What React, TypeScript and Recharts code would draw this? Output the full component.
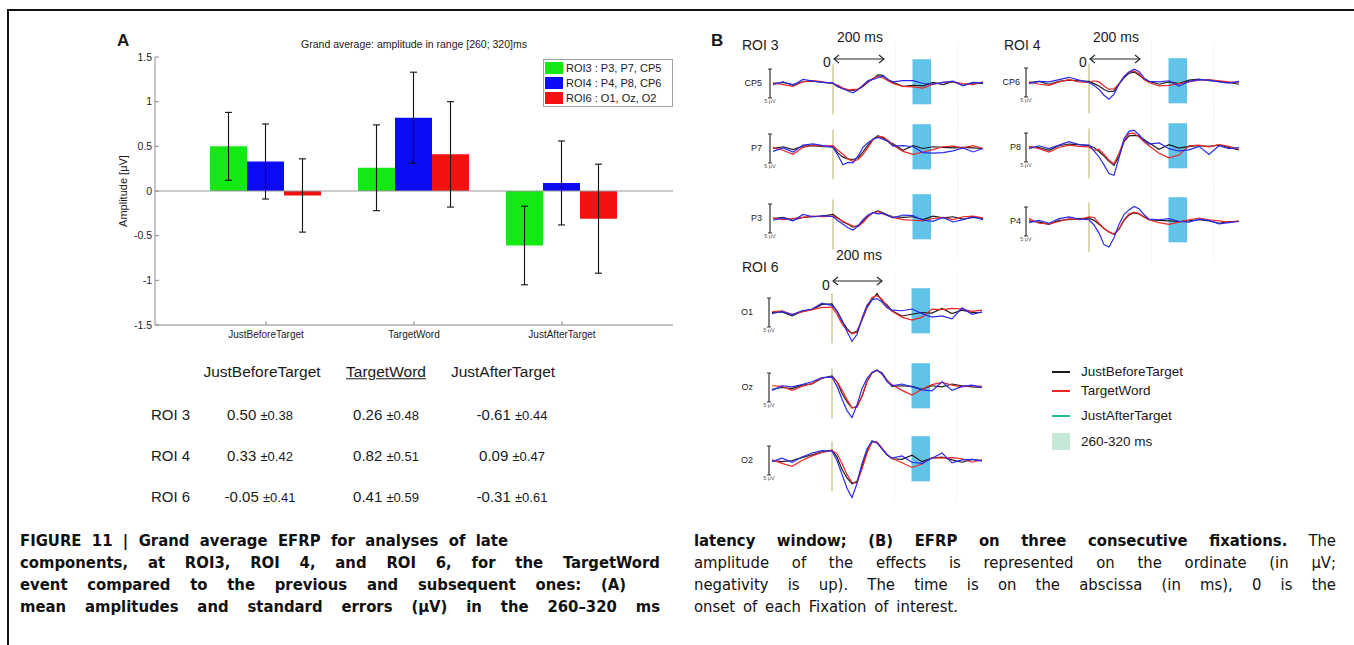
import React from 'react';
import {
  BarChart, Bar, XAxis, YAxis, ErrorBar, ReferenceLine, LineChart, Line, ReferenceArea,
} from 'recharts';

// ---------- Panel A data ----------
const categories = ['JustBeforeTarget', 'TargetWord', 'JustAfterTarget'];
const roi3 = [0.5, 0.26, -0.61];
const roi4 = [0.33, 0.82, 0.09];
const roi6 = [-0.05, 0.41, -0.31];
const err3 = [0.38, 0.48, 0.44];
const err4 = [0.42, 0.51, 0.47];
const err6 = [0.41, 0.59, 0.61];
const yTicks = [-1.5, -1, -0.5, 0, 0.5, 1, 1.5];
const roiNames = ['ROI 3', 'ROI 4', 'ROI 6'];
const legendA = ['ROI3 : P3, P7, CP5', 'ROI4 : P4, P8, CP6', 'ROI6 : O1, Oz, O2'];

// ---------- Panel B data (ms, µV) ----------
const times = [-240, -200, -160, -120, -80, -40, 0, 20, 40, 60, 80, 100, 120, 140, 160, 180, 200, 220, 240, 280, 320, 360, 400, 440, 480, 520, 560, 600];
const windowMs = [318, 392];
const gridMs = [250, 500];

const cp5Before = [0, 0.2, -0.2, 0.3, 0.4, 0.2, 0, -0.5, -0.9, -1.1, -1.2, -1.0, -0.5, 0.2, 0.8, 1.5, 1.4, 0.6, 0.2, -0.5, -0.3, -0.4, 0.2, -0.2, 0.3, -0.3, 0.1, 0];
const cp5Target = [0.1, -0.2, -0.5, 0.3, 0.5, 0.3, 0, -0.3, -0.8, -1.1, -1.0, -1.0, -0.4, 0.3, 0.9, 1.2, 1.0, 0.5, 0, -0.5, -0.6, -0.8, -0.1, 0.2, 0.3, 0, -0.2, 0.3];
const cp5After = [-0.2, 0.3, -0.3, 0.7, 0.4, 0.2, 0.1, -0.6, -0.9, -1.3, -1.6, -1.1, -0.3, 0.5, 0.7, 1.0, 1.3, 0.7, 0.3, 0.5, 0.5, 0, -0.1, 0.2, 0.4, -0.4, 0.2, 0.1];

const p7Before = [0, 0.3, -0.2, 0.4, 0.5, 0.3, 0.3, -0.8, -1.5, -1.8, -1.9, -1.6, -0.6, 0.6, 1.6, 2.2, 1.8, 1.2, 0.8, -0.3, 0.5, 0, 0.3, 0.2, 0.1, 0.2, 0.1, 0];
const p7Target = [0.2, -0.3, -1.0, 0.2, 0.6, 0.4, 0.5, -0.3, -1.0, -1.8, -2.2, -1.9, -1.0, 0.2, 1.5, 2.1, 2.0, 1.4, 0.6, -0.5, -1.0, -0.6, -0.2, 0.3, 0.4, 0.1, 0.5, 0];
const p7After = [-0.5, 0.1, -0.6, 0.6, 0.8, 0.5, 0.2, -1.2, -2.8, -2.4, -2.5, -1.3, 0.2, 1.0, 1.6, 1.9, 1.6, 1.2, 0.4, 0.5, 0.3, -0.7, -0.8, -0.7, -0.4, 0.1, -0.6, 0];

const p3Before = [0, 0.2, -0.3, 0.2, 0.3, 0.4, 0.7, 0.1, -0.6, -1.0, -1.5, -1.2, -0.5, 0.4, 1.0, 1.3, 1.0, 0.6, 0.3, 0.2, 0.3, -0.2, 0.4, 0.1, 0.3, -0.1, 0.2, 0];
const p3Target = [0.1, -0.2, 0, 0.2, 0.4, 0.3, 0.4, 0, -0.5, -0.9, -1.3, -1.4, -0.7, 0.3, 1.0, 1.2, 0.8, 0.5, 0.2, -0.2, -0.3, -0.4, 0, 0.2, -0.2, 0.3, 0.4, 0.1];
const p3After = [-0.3, 0.1, -0.4, 0.7, 0.3, 0.5, 0.3, -0.4, -1.0, -1.6, -2.0, -1.3, -0.2, 0.6, 1.0, 0.8, 0.9, 0.5, 0.1, 0.6, 0.5, -0.3, -0.5, 0.2, -0.6, -0.2, 0.3, -0.2];

const cp6Before = [0, 0.2, -0.3, 0.2, 0.4, 0.3, 0.2, -0.2, -0.6, -1.2, -1.6, -1.5, -0.3, 0.8, 1.6, 1.8, 1.3, 0.6, 0.2, -0.3, 0.1, -0.2, 0.4, 0.6, 0.3, 0.2, 0, -0.3];
const cp6Target = [0.1, -0.3, -0.5, 0.1, 0.5, 0.1, 0, 0.3, 0.1, -0.6, -1.2, -1.1, -0.2, 1.0, 1.8, 2.0, 1.5, 0.5, 0, -0.6, -0.5, -0.2, 0.1, 0.4, 0.5, 0.3, 0.1, 0];
const cp6After = [-0.2, 0.2, 0.1, 0.5, 0.9, 0.4, 0, -0.5, -1.2, -2.2, -2.9, -2.0, -0.3, 1.0, 1.8, 2.3, 1.9, 0.8, 0.2, 0.1, 0.3, -0.6, 0.2, 0.5, 0.4, 0.1, -0.1, 0.2];

const p8Before = [0.1, 0, -0.5, 0.3, 0.6, 0.5, 0.3, 0, -0.7, -1.5, -2.4, -3.1, -1.5, 1.0, 2.0, 2.1, 2.0, 1.4, 0.8, -0.3, 0.5, -0.1, 0.2, 0.3, 0.2, 0.4, 0, -0.4];
const p8Target = [0.2, -0.2, -0.8, 0, 0.4, 0.2, 0.1, -0.5, -0.3, -1.2, -2.2, -2.8, -1.0, 1.2, 2.4, 2.5, 1.8, 1.0, 0.3, -1.0, -1.8, -1.3, 0.3, 0.4, 0.1, 0.5, 0.2, -0.3];
const p8After = [-0.2, 0.3, -0.2, 0.4, 1.0, 0.5, 0.4, -0.6, -1.6, -3.0, -4.5, -4.8, -1.8, 1.5, 2.8, 3.0, 2.2, 1.2, 0.6, 0.8, -0.2, -0.6, -0.4, 0.2, -1.2, 0.3, -0.2, 0];

const p4Before = [0.1, -0.1, -0.5, 0.2, 0.3, 0.5, 0.6, 0.2, -0.5, -1.2, -1.8, -2.2, -1.3, 0.2, 1.1, 1.5, 1.3, 0.8, 0.3, 0.2, 0.1, 0, 0.1, 0.3, 0.1, -0.3, 0, 0];
const p4Target = [0.5, -0.3, -0.4, 0, 0.5, 0.3, 0.8, 0.7, -0.3, -1.2, -1.8, -2.2, -1.3, 0.3, 1.3, 1.6, 1.4, 0.8, 0.3, -0.2, -0.5, -0.1, 0.3, 0.6, 0.3, 0.1, -0.1, 0.1];
const p4After = [-0.2, 0.2, -0.3, 0.5, 0.8, 0.4, 0.3, -0.6, -2.0, -4.0, -4.4, -2.8, -0.5, 1.2, 2.0, 2.6, 2.2, 1.2, 0.4, 0.3, 0.5, 0, -0.1, 0.4, 0.2, -0.4, -0.2, 0];

const o1Before = [0, 0.1, -0.6, 0.2, 0.5, 1.4, 1.5, 0.2, -1.5, -2.8, -3.6, -3.2, -1.3, 0.8, 2.2, 3.3, 2.0, 1.3, 0.3, -0.6, -0.3, 0, -0.1, 0.7, -0.2, 0.4, 0, 0];
const o1Target = [0.1, 0.3, -0.3, 0.1, 0.5, 0.9, 0.9, -0.3, -2.0, -3.0, -3.7, -3.4, -1.2, 1.0, 2.6, 2.9, 2.3, 1.0, 0.2, -0.8, -1.3, -0.8, 0.6, 0.5, 0.7, 0.6, 0.2, 0.4];
const o1After = [-0.2, 0.2, -0.4, 0.3, 0.6, 1.6, 1.2, 0.3, -1.3, -3.3, -5.0, -3.8, -1.0, 1.3, 2.2, 2.4, 1.8, 0.8, 0.4, 0.3, 0.6, -0.2, -0.8, -0.6, -1.1, 0.8, -0.3, 0.1];

const ozBefore = [-0.3, 0, -0.2, 0.4, 0.6, 1.6, 2.0, 1.0, -1.0, -2.5, -3.5, -3.3, -1.5, 1.0, 2.5, 3.0, 2.5, 1.3, 0.2, 0.3, 0.2, -0.3, 0.3, 0.1, 0.6, 0.3, 0.1, 0];
const ozTarget = [0.3, 0.2, -0.5, 0.2, 0.7, 1.7, 1.8, 1.0, -0.4, -2.1, -3.5, -3.4, -1.5, 1.0, 2.6, 3.0, 2.3, 1.2, 0.5, -0.5, -1.3, -0.3, 0.5, 0.9, 0.4, 0.1, 0.3, 0.2];
const ozAfter = [-0.5, 0.3, 0.1, 0.5, 1.0, 1.7, 1.8, 0.2, -2.0, -4.0, -5.2, -3.0, -0.2, 1.6, 2.6, 3.0, 2.4, 1.0, 0.3, 0.6, 0.1, -0.4, -0.6, 1.0, -0.5, 0.2, 0.4, 0];

const o2Before = [0, -0.2, 0, 0.5, 1.0, 1.5, 1.8, 0.6, -1.5, -3.0, -4.0, -3.6, -1.0, 1.5, 3.2, 3.2, 2.0, 1.0, 0.3, 0.2, 0.9, -0.2, 0.4, 0.6, 0.1, -0.3, 0.2, 0];
const o2Target = [0.1, -0.5, -1.0, 0, 0.8, 1.4, 1.7, 1.2, -0.5, -2.4, -3.8, -3.9, -1.5, 1.3, 3.3, 3.2, 2.2, 1.0, 0.4, -0.4, -1.2, -0.6, 0.5, 0.4, 0.5, 0.3, -0.3, 0.1];
const o2After = [-0.2, 0.4, -0.3, 0.6, 1.3, 1.7, 1.6, 0, -2.4, -4.8, -6.4, -4.0, -0.5, 2.0, 3.4, 3.0, 2.0, 1.0, 0.4, 0.8, -0.3, -0.5, 0.4, 1.3, -0.4, 0.1, 0.2, -0.1];

const legendB = ['JustBeforeTarget', 'TargetWord', 'JustAfterTarget', '260-320 ms'];

// ---------- styles ----------
const FONT = 'Arial, "Liberation Sans", Helvetica, sans-serif';
const NARROW = '"Liberation Sans Narrow", "DejaVu Sans Condensed", "Arial Narrow", "Liberation Sans", sans-serif';
const GREEN = '#13ea13';
const BLUE = '#0b0bf4';
const RED = '#f41111';
const W_BLACK = '#1c1c1c';
const W_RED = '#ec2525';
const W_BLUE = '#2a2aee';
const RECT = '#62c3e8';

type TxtProps = { x: number; y: number; size: number; children: React.ReactNode; anchor?: 'start' | 'middle' | 'end'; weight?: number; style?: React.CSSProperties };
function Txt({ x, y, size, children, anchor = 'start', weight = 400, style }: TxtProps) {
  const tx = anchor === 'middle' ? '-50%' : anchor === 'end' ? '-100%' : '0';
  return (
    <div style={{ position: 'absolute', left: x, top: y, transform: `translate(${tx}, -50%)`, fontSize: size, fontFamily: FONT, fontWeight: weight, lineHeight: 1, whiteSpace: 'nowrap', color: '#1a1a1a', ...style }}>
      {children}
    </div>
  );
}

const T0 = -280;
const T1 = 620;
const PX = 0.25;
const WH = 81;

type WaveProps = { zeroX: number; cy: number; name: string; labelRight: number; before: number[]; target: number[]; after: number[] };
function Wave({ zeroX, cy, name, labelRight, before, target, after }: WaveProps) {
  const data = times.map((t, i) => ({ t, b: before[i], r: target[i], a: after[i] }));
  const left = zeroX + T0 * PX;
  return (
    <>
      <div style={{ position: 'absolute', left, top: cy - WH / 2 }}>
        <LineChart width={(T1 - T0) * PX} height={WH} data={data} margin={{ top: 0, right: 0, bottom: 0, left: 0 }}>
          <XAxis type="number" dataKey="t" domain={[T0, T1]} hide allowDataOverflow />
          <YAxis type="number" domain={[-7, 7]} hide allowDataOverflow />
          {gridMs.map((g) => (
            <ReferenceLine key={g} segment={[{ x: g, y: -7 }, { x: g, y: 7 }]} stroke="#f5f5f5" strokeWidth={1} />
          ))}
          <ReferenceArea x1={windowMs[0]} x2={windowMs[1]} y1={-3.6} y2={4.2} fill={RECT} fillOpacity={1} stroke="none" />
          <ReferenceLine segment={[{ x: 0, y: -5.3 }, { x: 0, y: 3.3 }]} stroke="#d2cd9a" strokeWidth={1.6} />
          <ReferenceLine segment={[{ x: -252, y: -2.5 }, { x: -252, y: 2.5 }]} stroke="#333" strokeWidth={1.2} />
          <ReferenceLine segment={[{ x: -260, y: 2.5 }, { x: -244, y: 2.5 }]} stroke="#333" strokeWidth={1} />
          <ReferenceLine segment={[{ x: -260, y: -2.5 }, { x: -244, y: -2.5 }]} stroke="#333" strokeWidth={1} />
          <Line type="linear" dataKey="b" stroke={W_BLACK} strokeWidth={1.2} dot={false} isAnimationActive={false} />
          <Line type="linear" dataKey="r" stroke={W_RED} strokeWidth={1.2} dot={false} isAnimationActive={false} />
          <Line type="linear" dataKey="a" stroke={W_BLUE} strokeWidth={1.2} dot={false} isAnimationActive={false} />
        </LineChart>
      </div>
      <Txt x={labelRight} y={cy} size={9} anchor="end">{name}</Txt>
      <Txt x={zeroX - 63} y={cy + 19} size={5.5} anchor="middle" style={{ color: '#555' }}>5 μV</Txt>
    </>
  );
}

function DoubleArrow({ x1, x2, y }: { x1: number; x2: number; y: number }) {
  return (
    <g stroke="#222" strokeWidth={1.1} fill="none">
      <line x1={x1} y1={y} x2={x2} y2={y} />
      <polyline points={`${x1 + 5},${y - 4} ${x1},${y} ${x1 + 5},${y + 4}`} />
      <polyline points={`${x2 - 5},${y - 4} ${x2},${y} ${x2 - 5},${y + 4}`} />
    </g>
  );
}

type ColumnProps = { zeroX: number; title: string; titleX: number; titleY: number; msY: number; zeroY: number; arrowY: number; arrowEnd: number };
function ColumnHeader({ zeroX, title, titleX, titleY, msY, zeroY, arrowY, arrowEnd }: ColumnProps) {
  return (
    <>
      <Txt x={titleX} y={titleY} size={14}>{title}</Txt>
      <Txt x={zeroX + 4} y={msY} size={14}>200 ms</Txt>
      <Txt x={zeroX - 10} y={zeroY} size={14}>0</Txt>
      <svg style={{ position: 'absolute', left: 0, top: 0, overflow: 'visible' }} width={1} height={1}>
        <DoubleArrow x1={zeroX + 1} x2={arrowEnd} y={arrowY} />
      </svg>
    </>
  );
}

function CaptionLine({ x, y, width, children, weight = 400 }: { x: number; y: number; width: number; children: React.ReactNode; weight?: number }) {
  return (
    <div style={{ position: 'absolute', left: x, top: y, transform: 'translateY(-50%)', width, fontFamily: NARROW, fontStretch: 'condensed', fontSize: 16.5, fontWeight: weight, lineHeight: 1, textAlign: 'justify', textAlignLast: 'justify', whiteSpace: 'nowrap', color: '#111' }}>
      {children}
    </div>
  );
}

export default function App() {
  const barData = categories.map((c, i) => ({ cat: c, r3: roi3[i], r4: roi4[i], r6: roi6[i], e3: err3[i], e4: err4[i], e6: err6[i] }));
  const rows = [roi3, roi4, roi6];
  const errs = [err3, err4, err6];
  const colCenters = [260, 386, 512];
  const headerCenters = [262, 386, 503];
  const rowY = [414, 455, 496];
  const bColor = [W_BLACK, W_RED, '#1abf8c'];

  return (
    <div style={{ position: 'fixed', left: 0, top: 0, width: 1354, height: 645, background: '#fff', overflow: 'hidden' }}>
      {/* frame */}
      <div style={{ position: 'absolute', left: 7, top: 9, width: 1360, height: 2, background: '#111' }} />
      <div style={{ position: 'absolute', left: 7, top: 9, width: 2, height: 640, background: '#111' }} />

      {/* ---------------- Panel A ---------------- */}
      <Txt x={117} y={40} size={17} weight={700}>A</Txt>
      <Txt x={414} y={44} size={10.5} anchor="middle">Grand average: amplitude in range [260; 320]ms</Txt>
      <Txt x={123} y={191} size={11} anchor="middle" style={{ transform: 'translate(-50%, -50%) rotate(-90deg)' }}>Amplitude [μV]</Txt>

      <div style={{ position: 'absolute', left: 0, top: 0 }}>
        <BarChart width={700} height={360} data={barData} margin={{ top: 57, right: 27, bottom: 5, left: 115 }} barGap={0} barCategoryGap={18}>
          <XAxis dataKey="cat" padding={{ left: 37, right: 37 }} tickSize={-4} tickMargin={10} stroke="#8a8a8a" tick={{ fontSize: 10, fill: '#222', fontFamily: FONT }} height={30} interval={0} />
          <YAxis type="number" domain={[-1.5, 1.5]} ticks={yTicks} width={40} tickSize={-4} tickMargin={7} stroke="#8a8a8a" tick={{ fontSize: 10.5, fill: '#222', fontFamily: FONT }} allowDataOverflow />
          <ReferenceLine y={0} stroke="#9a9a9a" />
          <Bar dataKey="r3" fill={GREEN} isAnimationActive={false}>
            <ErrorBar dataKey="e3" width={3.5} stroke="#111" strokeWidth={1.1} direction="y" />
          </Bar>
          <Bar dataKey="r4" fill={BLUE} isAnimationActive={false}>
            <ErrorBar dataKey="e4" width={3.5} stroke="#111" strokeWidth={1.1} direction="y" />
          </Bar>
          <Bar dataKey="r6" fill={RED} isAnimationActive={false}>
            <ErrorBar dataKey="e6" width={3.5} stroke="#111" strokeWidth={1.1} direction="y" />
          </Bar>
        </BarChart>
      </div>

      {/* legend A */}
      <div style={{ position: 'absolute', left: 543, top: 59, width: 128, height: 46, border: '1px solid #a0a0a0', background: '#fff' }} />
      {[GREEN, BLUE, RED].map((c, i) => (
        <React.Fragment key={c}>
          <div style={{ position: 'absolute', left: 545, top: 62 + i * 15, width: 18, height: 12, background: c }} />
          <Txt x={566} y={68 + i * 15} size={11}>{legendA[i]}</Txt>
        </React.Fragment>
      ))}

      {/* table */}
      {categories.map((c, j) => (
        <Txt key={c} x={headerCenters[j]} y={372} size={15.5} anchor="middle" style={j === 1 ? { textDecoration: 'underline' } : undefined}>{c}</Txt>
      ))}
      {rows.map((r, i) => (
        <React.Fragment key={i}>
          <Txt x={151} y={rowY[i]} size={15}>{roiNames[i]}</Txt>
          {r.map((v, j) => (
            <Txt key={j} x={colCenters[j]} y={rowY[i]} size={15} anchor="middle">
              {v.toFixed(2)} <span style={{ fontSize: 13 }}>±{errs[i][j].toFixed(2)}</span>
            </Txt>
          ))}
        </React.Fragment>
      ))}

      {/* ---------------- Panel B ---------------- */}
      <Txt x={711} y={40} size={17} weight={700}>B</Txt>
      <ColumnHeader zeroX={833} title="ROI 3" titleX={742} titleY={45} msY={37} zeroY={62} arrowY={59} arrowEnd={884} />
      <ColumnHeader zeroX={1089} title="ROI 4" titleX={1004} titleY={45} msY={37} zeroY={62} arrowY={59} arrowEnd={1140} />
      <ColumnHeader zeroX={832} title="ROI 6" titleX={742} titleY={267} msY={255} zeroY={285} arrowY={281} arrowEnd={882} />

      <Wave zeroX={833} cy={83} name="CP5" labelRight={762} before={cp5Before} target={cp5Target} after={cp5After} />
      <Wave zeroX={833} cy={148} name="P7" labelRight={762} before={p7Before} target={p7Target} after={p7After} />
      <Wave zeroX={833} cy={218} name="P3" labelRight={762} before={p3Before} target={p3Target} after={p3After} />

      <Wave zeroX={1089} cy={82} name="CP6" labelRight={1020} before={cp6Before} target={cp6Target} after={cp6After} />
      <Wave zeroX={1089} cy={147} name="P8" labelRight={1021} before={p8Before} target={p8Target} after={p8After} />
      <Wave zeroX={1089} cy={221} name="P4" labelRight={1021} before={p4Before} target={p4Target} after={p4After} />

      <Wave zeroX={832} cy={312} name="O1" labelRight={753} before={o1Before} target={o1Target} after={o1After} />
      <Wave zeroX={832} cy={387} name="Oz" labelRight={753} before={ozBefore} target={ozTarget} after={ozAfter} />
      <Wave zeroX={832} cy={460} name="O2" labelRight={753} before={o2Before} target={o2Target} after={o2After} />

      {/* legend B */}
      {[372, 391, 416].map((y, i) => (
        <React.Fragment key={y}>
          <div style={{ position: 'absolute', left: 1052, top: y - 1, width: 18, height: 2, background: bColor[i] }} />
          <Txt x={1081} y={y} size={13.5}>{legendB[i]}</Txt>
        </React.Fragment>
      ))}
      <div style={{ position: 'absolute', left: 1052, top: 433, width: 18, height: 17, background: '#c6e9d7' }} />
      <Txt x={1081} y={442} size={13.5}>{legendB[3]}</Txt>

      {/* ---------------- Caption ---------------- */}
      <CaptionLine x={20} y={541} width={488} weight={700}>FIGURE 11 | Grand average EFRP for analyses of late</CaptionLine>
      <CaptionLine x={20} y={563} width={640} weight={700}>components, at ROI3, ROI 4, and ROI 6, for the TargetWord</CaptionLine>
      <CaptionLine x={20} y={585} width={606} weight={700}>event compared to the previous and subsequent ones: (A)</CaptionLine>
      <CaptionLine x={20} y={607} width={640} weight={700}>mean amplitudes and standard errors (μV) in the 260–320 ms</CaptionLine>

      <CaptionLine x={694} y={541} width={642}><b>latency window; (B) EFRP on three consecutive fixations.</b> The</CaptionLine>
      <CaptionLine x={694} y={563} width={642}>amplitude of the effects is represented on the ordinate (in μV;</CaptionLine>
      <CaptionLine x={694} y={585} width={642}>negativity is up). The time is on the abscissa (in ms), 0 is the</CaptionLine>
      <CaptionLine x={694} y={607} width={264}>onset of each Fixation of interest.</CaptionLine>
    </div>
  );
}
